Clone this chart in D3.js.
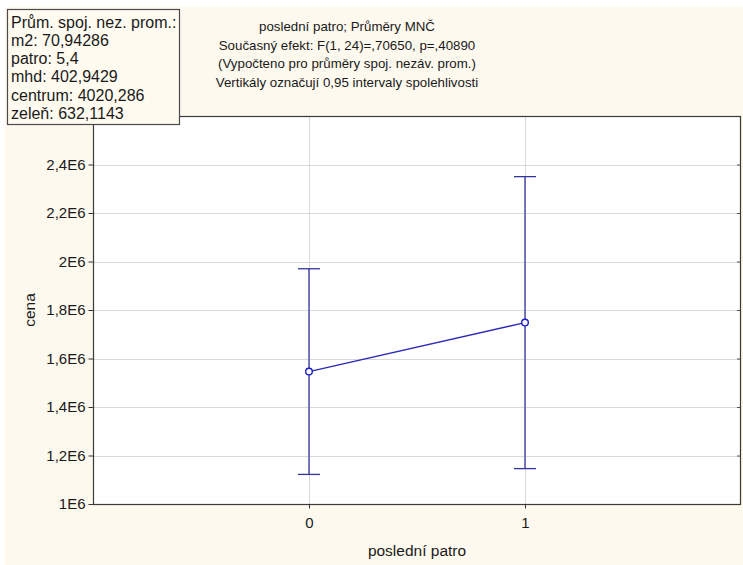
<!DOCTYPE html>
<html>
<head>
<meta charset="utf-8">
<script src="https://cdn.jsdelivr.net/npm/d3@7"></script>
<style>
  html, body { margin: 0; padding: 0; background: #ffffff; }
  svg { display: block; }
  text { font-family: "Liberation Sans", Arial, sans-serif; fill: #1a1a1a; }
</style>
</head>
<body>
<svg id="chart" width="743" height="565"></svg>
<script>
// Group levels of "poslední patro"
const categories = [0, 1];
// Least-squares means of "cena" with 0.95 confidence limits
const means = [1546000, 1748000];
const lowerCI = [1122000, 1146000];
const upperCI = [1970000, 2350000];
// Y tick values and labels
const yTicks = [1000000, 1200000, 1400000, 1600000, 1800000, 2000000, 2200000, 2400000];
const yTickLabels = ["1E6", "1,2E6", "1,4E6", "1,6E6", "1,8E6", "2E6", "2,2E6", "2,4E6"];
// Header and covariate info box
const titleLines = [
  "poslední patro; Průměry MNČ",
  "Současný efekt: F(1, 24)=,70650, p=,40890",
  "(Vypočteno pro průměry spoj. nezáv. prom.)",
  "Vertikály označují 0,95 intervaly spolehlivosti"
];
const infoLines = [
  "Prům. spoj. nez. prom.:",
  "m2: 70,94286",
  "patro: 5,4",
  "mhd: 402,9429",
  "centrum: 4020,286",
  "zeleň: 632,1143"
];

const svg = d3.select("#chart");
const W = 743, H = 565;
const FONT = "'Liberation Sans', Arial, sans-serif";

// cream page background with thin white margin at top/left
svg.append("rect").attr("x", 5).attr("y", 7).attr("width", W - 5).attr("height", H - 7)
  .attr("fill", "#fdf9ee");

const plot = { left: 93, right: 741, top: 116, bottom: 504 };

const x = d3.scaleLinear().domain([-1, 2]).range([plot.left, plot.right]);
const y = d3.scaleLinear().domain([1000000, 2600000]).range([plot.bottom, plot.top]);

// plot area
svg.append("rect")
  .attr("x", plot.left).attr("y", plot.top)
  .attr("width", plot.right - plot.left).attr("height", plot.bottom - plot.top)
  .attr("fill", "#ffffff");

// gridlines
const grid = svg.append("g");
grid.selectAll("line.h").data(yTicks.slice(1)).join("line")
  .attr("x1", plot.left).attr("x2", plot.right)
  .attr("y1", d => Math.round(y(d)) + 0.5).attr("y2", d => Math.round(y(d)) + 0.5)
  .attr("stroke", "#d9d9d9").attr("stroke-width", 1);
grid.selectAll("line.v").data(categories).join("line")
  .attr("y1", plot.top).attr("y2", plot.bottom)
  .attr("x1", d => Math.round(x(d)) + 0.5).attr("x2", d => Math.round(x(d)) + 0.5)
  .attr("stroke", "#d9d9d9").attr("stroke-width", 1);

// axes
const yAxis = d3.axisLeft(y).tickValues(yTicks)
  .tickFormat((d, i) => yTickLabels[i]).tickSize(5).tickPadding(3);
const gy = svg.append("g").attr("transform", `translate(${plot.left + 0.5},0)`).call(yAxis);
gy.select(".domain").remove();
gy.selectAll(".tick line").attr("stroke", "#333");
gy.selectAll(".tick text").style("font-size", "15px").attr("fill", "#1a1a1a")
  .style("font-family", FONT);

const xAxis = d3.axisBottom(x).tickValues(categories).tickFormat(d3.format("d"))
  .tickSize(4).tickPadding(9);
const gx = svg.append("g").attr("transform", `translate(0,${plot.bottom + 0.5})`).call(xAxis);
gx.select(".domain").remove();
gx.selectAll(".tick line").attr("stroke", "#333");
gx.selectAll(".tick text").style("font-size", "15px").attr("fill", "#1a1a1a")
  .style("font-family", FONT);

// inner ticks on the right edge
const yRight = d3.axisLeft(y).tickValues(yTicks.slice(1)).tickFormat("").tickSize(4);
const gr = svg.append("g").attr("transform", `translate(${plot.right},0)`).call(yRight);
gr.select(".domain").remove();
gr.selectAll(".tick line").attr("stroke", "#555");

// plot frame
svg.append("rect")
  .attr("x", plot.left + 0.5).attr("y", plot.top + 0.5)
  .attr("width", plot.right - plot.left - 1).attr("height", plot.bottom - plot.top)
  .attr("fill", "none").attr("stroke", "#3a3a3a").attr("stroke-width", 1.2);

// error bars
const barColor = "#34349c";
const capHalf = 11;
const bars = svg.append("g");
categories.forEach((c, i) => {
  const cx = x(c);
  bars.append("line").attr("x1", cx).attr("x2", cx)
    .attr("y1", y(lowerCI[i])).attr("y2", y(upperCI[i]))
    .attr("stroke", barColor).attr("stroke-width", 1.3);
  [lowerCI[i], upperCI[i]].forEach(v => {
    bars.append("line").attr("x1", cx - capHalf).attr("x2", cx + capHalf)
      .attr("y1", y(v)).attr("y2", y(v))
      .attr("stroke", barColor).attr("stroke-width", 1.3);
  });
});

// mean line and markers
const pts = categories.map((c, i) => [x(c), y(means[i])]);
svg.append("path").attr("d", d3.line()(pts))
  .attr("fill", "none").attr("stroke", "#2a2ab8").attr("stroke-width", 1.3);
svg.selectAll("circle.m").data(pts).join("circle")
  .attr("cx", d => d[0]).attr("cy", d => d[1]).attr("r", 3.3)
  .attr("fill", "#ffffff").attr("stroke", "#1c1cc8").attr("stroke-width", 1.4);

// titles
svg.append("g").selectAll("text").data(titleLines).join("text")
  .attr("x", 347).attr("y", (d, i) => 31 + i * 18.6)
  .attr("text-anchor", "middle").style("font-size", "13.3px").text(d => d);

// axis titles
svg.append("text").attr("x", (plot.left + plot.right) / 2).attr("y", 556)
  .attr("text-anchor", "middle").style("font-size", "15.5px").text("poslední patro");
svg.append("text").attr("transform", `translate(35,${(plot.top + plot.bottom) / 2}) rotate(-90)`)
  .attr("text-anchor", "middle").style("font-size", "15.5px").text("cena");

// covariate means box
const box = { x: 7.5, y: 9.5, w: 172, h: 115 };
svg.append("rect").attr("x", box.x).attr("y", box.y).attr("width", box.w).attr("height", box.h)
  .attr("fill", "#fffbf1").attr("stroke", "#4a4a4a").attr("stroke-width", 1.2);
svg.append("g").selectAll("text").data(infoLines).join("text")
  .attr("x", 11).attr("y", (d, i) => 27.5 + i * 18.3)
  .style("font-size", "16px").text(d => d);
</script>
</body>
</html>
